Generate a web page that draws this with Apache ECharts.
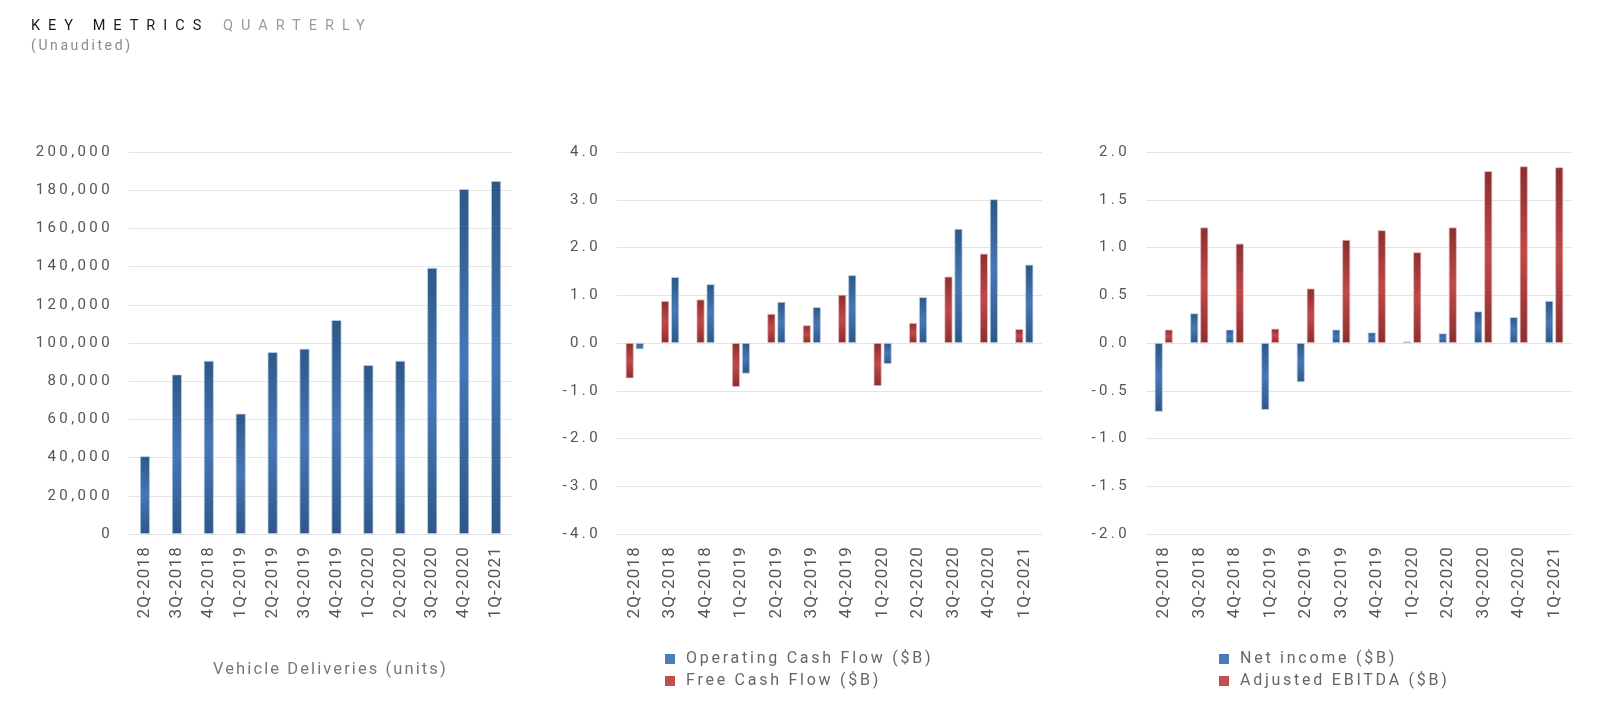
<!DOCTYPE html>
<html>
<head>
<meta charset="utf-8">
<script src="https://cdn.jsdelivr.net/npm/echarts@6/dist/echarts.min.js"></script>
<style>
html,body{margin:0;padding:0;background:#fff;}
#chart{width:1600px;height:705px;}
</style>
</head>
<body>
<div id="chart"></div>
<script>
// ---- data ----
const quarters = ['2Q-2018','3Q-2018','4Q-2018','1Q-2019','2Q-2019','3Q-2019','4Q-2019','1Q-2020','2Q-2020','3Q-2020','4Q-2020','1Q-2021'];
const deliveries = [40700, 83500, 90700, 63000, 95200, 97000, 112000, 88400, 90700, 139300, 180600, 184800];
const operatingCashFlow = [-0.13, 1.38, 1.23, -0.64, 0.86, 0.75, 1.42, -0.44, 0.96, 2.39, 3.01, 1.64];
const freeCashFlow = [-0.74, 0.88, 0.91, -0.92, 0.61, 0.37, 1.01, -0.90, 0.42, 1.39, 1.87, 0.29];
const netIncome = [-0.72, 0.31, 0.14, -0.70, -0.41, 0.14, 0.11, 0.016, 0.10, 0.33, 0.27, 0.44];
const adjustedEbitda = [0.14, 1.21, 1.04, 0.15, 0.57, 1.08, 1.18, 0.95, 1.21, 1.80, 1.85, 1.84];
const deliveryTicks = [0, 20000, 40000, 60000, 80000, 100000, 120000, 140000, 160000, 180000, 200000];
const cashTicks = [-4, -3, -2, -1, 0, 1, 2, 3, 4];
const incomeTicks = [-2, -1.5, -1, -0.5, 0, 0.5, 1, 1.5, 2];

// ---- letter spacing (tracking) emulation on canvas text ----
const spacingBySize = {14.5: 8.0, 14: 2.6, 15: 3.4, 17: 1.2, 16: 2.75, 16.5: 2.1};
const origFillText = CanvasRenderingContext2D.prototype.fillText;
CanvasRenderingContext2D.prototype.fillText = function (t, x, y, mw) {
  const m = /(\d+(?:\.\d+)?)px/.exec(this.font || '');
  const sp = m && spacingBySize[parseFloat(m[1])];
  try { this.letterSpacing = (sp || 0) + 'px'; } catch (e) {}
  return mw === undefined ? origFillText.call(this, t, x, y) : origFillText.call(this, t, x, y, mw);
};

const FONT = 'Roboto';
const BLUE = '#4a7ebb', RED = '#c0504d';
function grad(dark, light) {
  return new echarts.graphic.LinearGradient(0, 0, 0, 1, [
    {offset: 0, color: dark}, {offset: 0.5, color: light}, {offset: 1, color: dark}
  ]);
}
const blueStyle = {color: grad('#2d5886', '#4677b5'), borderColor: 'rgba(190,210,235,0.9)', borderWidth: 0.8};
const redStyle = {color: grad('#8a2f2f', '#c04848'), borderColor: 'rgba(240,190,190,0.9)', borderWidth: 0.8};

const gridTop = 152, gridBottom = 171;
const grids = [
  {left: 129, right: 1088, top: gridTop, bottom: gridBottom},
  {left: 617, right: 558, top: gridTop, bottom: gridBottom},
  {left: 1146, right: 28, top: gridTop, bottom: gridBottom}
];
function xAxis(i) {
  return {
    type: 'category', gridIndex: i, data: quarters,
    axisLine: {show: false, onZero: false}, axisTick: {show: false},
    axisLabel: {rotate: 90, margin: 12, fontSize: 17, color: '#555555', fontFamily: FONT}
  };
}
function yAxis(i, ticks, fmt) {
  return {
    type: 'value', gridIndex: i, min: ticks[0], max: ticks[ticks.length - 1],
    interval: ticks[1] - ticks[0],
    axisLine: {show: false}, axisTick: {show: false},
    splitLine: {lineStyle: {color: '#e4e4e4', width: 1.2}},
    axisLabel: {margin: 16, fontSize: 15, color: '#555555', fontFamily: FONT, formatter: fmt}
  };
}
function titleText(text, left, top, size, color) {
  return {text, left, top, padding: 0, textStyle: {fontSize: size, fontWeight: 'normal', color, fontFamily: FONT}};
}
function legend(left, items) {
  return {
    orient: 'vertical', left, top: 651, padding: 0, itemWidth: 10, itemHeight: 10, itemGap: 6,
    icon: 'rect',
    textStyle: {fontSize: 16, color: '#666666', fontFamily: FONT, padding: [0, 0, 0, 6]},
    data: items
  };
}

const option = {
  backgroundColor: '#ffffff',
  animation: false,
  title: [
    titleText('KEY METRICS', 31, 19, 14.5, '#1a1a1a'),
    titleText('QUARTERLY', 223, 19, 14.5, '#9a9a9a'),
    titleText('(Unaudited)', 31, 39, 14, '#8a8a8a'),
    titleText('Vehicle Deliveries (units)', 213, 661, 16.5, '#777777')
  ],
  legend: [
    legend(665, [
      {name: 'Operating Cash Flow ($B)', itemStyle: {color: BLUE, borderWidth: 0}},
      {name: 'Free Cash Flow ($B)', itemStyle: {color: RED, borderWidth: 0}}
    ]),
    legend(1219, [
      {name: 'Net income ($B)', itemStyle: {color: BLUE, borderWidth: 0}},
      {name: 'Adjusted EBITDA ($B)', itemStyle: {color: RED, borderWidth: 0}}
    ])
  ],
  grid: grids,
  xAxis: [xAxis(0), xAxis(1), xAxis(2)],
  yAxis: [
    yAxis(0, deliveryTicks, v => v.toLocaleString('en-US')),
    yAxis(1, cashTicks, v => v.toFixed(1)),
    yAxis(2, incomeTicks, v => v.toFixed(1))
  ],
  series: [
    {name: 'Vehicle Deliveries (units)', type: 'bar', xAxisIndex: 0, yAxisIndex: 0, data: deliveries, barWidth: 10, itemStyle: blueStyle},
    {name: 'Free Cash Flow ($B)', type: 'bar', xAxisIndex: 1, yAxisIndex: 1, data: freeCashFlow, barWidth: 8, barGap: '25%', itemStyle: redStyle},
    {name: 'Operating Cash Flow ($B)', type: 'bar', xAxisIndex: 1, yAxisIndex: 1, data: operatingCashFlow, barWidth: 8, barGap: '25%', itemStyle: blueStyle},
    {name: 'Net income ($B)', type: 'bar', xAxisIndex: 2, yAxisIndex: 2, data: netIncome, barWidth: 8, barGap: '25%', itemStyle: blueStyle},
    {name: 'Adjusted EBITDA ($B)', type: 'bar', xAxisIndex: 2, yAxisIndex: 2, data: adjustedEbitda, barWidth: 8, barGap: '25%', itemStyle: redStyle}
  ]
};
const chart = echarts.init(document.getElementById('chart'), null, {renderer: 'canvas'});
chart.setOption(option);
</script>
</body>
</html>
